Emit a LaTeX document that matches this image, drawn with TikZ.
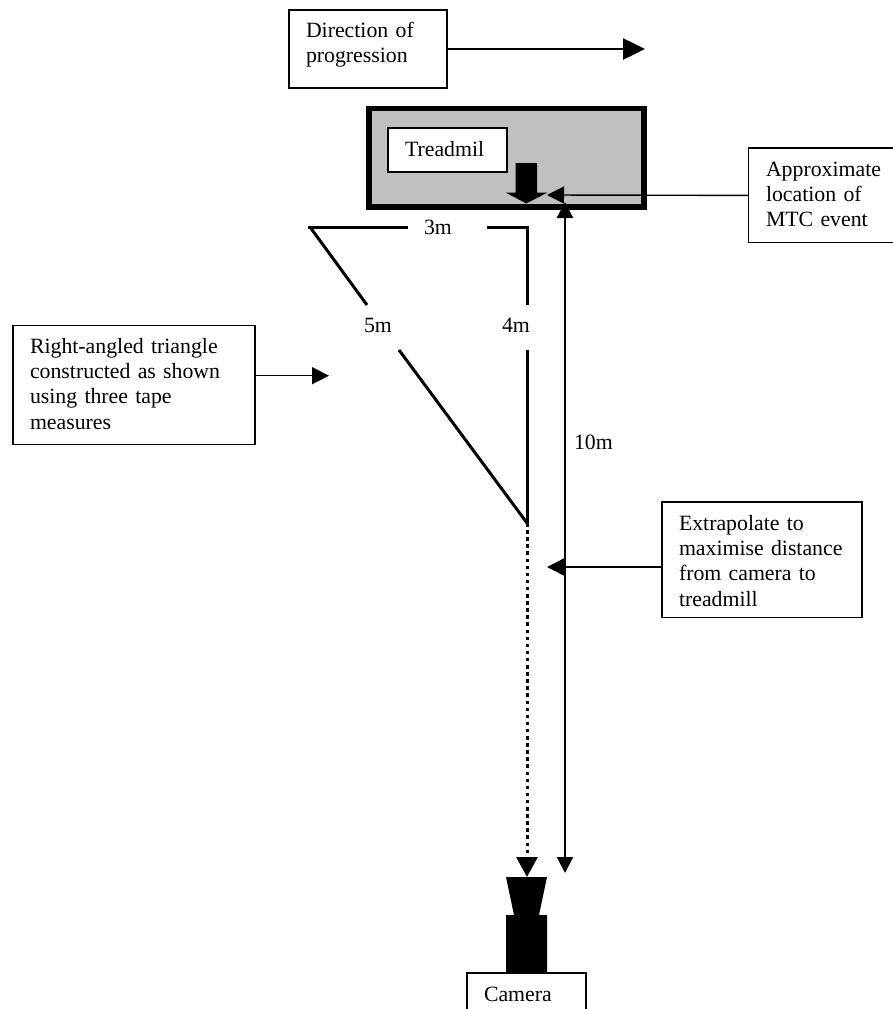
\documentclass[tikz,border=0pt]{standalone}
\usepackage{fontspec}
\setmainfont{Liberation Serif}
\usetikzlibrary{arrows.meta}
\newcommand{\topgap}[1]{\rule{0pt}{#1pt}}
\newcommand{\botgap}[1]{\rule[-#1pt]{0pt}{#1pt}}
\tikzset{
  every node/.style={font=\fontsize{21.8}{25.4}\selectfont, inner sep=0pt, outer sep=0pt},
  notebox/.style={draw=black, line width=1.2pt, anchor=north west, align=left, fill=white},
  lbl/.style={anchor=base west},
  thinarrow/.style={line width=1.4pt, -{Triangle[length=17pt,width=17pt]}},
  bigarrow/.style={line width=2.5pt, -{Triangle[length=22pt,width=21pt]}},
  tape/.style={line width=3pt, line cap=butt},
  span/.style={line width=2.2pt, {Triangle[length=16pt,width=16pt]}-{Triangle[length=16pt,width=16pt]}},
  sight/.style={line width=3pt, dash pattern=on 3.5pt off 3.6pt, -{Triangle[length=20pt,width=21pt]}}
}
\begin{document}
\begin{tikzpicture}[x=1pt,y=-1pt]
\useasboundingbox (0,0) rectangle (893,1009);
\clip (0,0) rectangle (893,1009);
% treadmill
\draw[line width=5.6pt, fill={rgb,255:red,192;green,192;blue,192}] (368.8,108.6) rectangle (644.2,207.2);
\node[notebox, minimum width=119pt, minimum height=44pt, text width=85pt, inner xsep=17pt] (tread) at (388,128) {\topgap{28}Treadmil\botgap{16}};
\fill (515.7,163) -- (537,163) -- (537,192.5) -- (547.5,192.5) -- (526.3,203.5) -- (505.5,192.5) -- (515.7,192.5) -- cycle;
% note boxes
\node[notebox, minimum width=158pt, minimum height=78pt, text width=124pt, inner xsep=17pt] (dir) at (289,10)
  {\topgap{27}Direction of\\progression\botgap{25}};
\node[notebox, minimum width=170pt, minimum height=94pt, text width=135pt, inner xsep=17.5pt] (mtc) at (748.5,148)
  {\topgap{28}Approximate\\location of\\MTC event\botgap{16}};
\node[notebox, minimum width=242pt, minimum height=118.3pt, text width=208pt, inner xsep=17pt] (rt) at (13,325.7)
  {\topgap{27.3}Right-angled triangle\\constructed as shown\\using three tape\\measures\botgap{15}};
\node[notebox, minimum width=200pt, minimum height=115pt, text width=166pt, inner xsep=17pt] (ext) at (662,502)
  {\topgap{28}Extrapolate to\\maximise distance\\from camera to\\treadmill\botgap{11}};
\node[notebox, minimum width=119pt, minimum height=60pt, text width=85pt, inner xsep=17pt] (cam) at (467,973)
  {\topgap{28}Camera\botgap{32}};
% free ends
\coordinate (dirtip) at (645,49);
\coordinate (mtctip) at (547,195);
\coordinate (rttip) at (329,375.7);
\coordinate (exttip) at (547,567);
\coordinate (spantop) at (565,202);
\coordinate (spanbot) at (565,873);
\coordinate (sightstart) at (527,523);
\coordinate (sighttip) at (527,877);
% connectors
\draw[bigarrow] (dir.east) -- (dirtip);
\draw[thinarrow] (mtc.west) -- (mtctip);
\draw[thinarrow] (rt.east |- rttip) -- (rttip);
\draw[thinarrow] (ext.west |- exttip) -- (exttip);
\draw[span] (spantop) -- (spanbot);
% triangle
\coordinate (ta) at (308,227);
\coordinate (tb) at (527,227);
\coordinate (tc) at (527,523);
\draw[tape] (ta) -- (408,227);
\draw[tape] (487,227) -- (tb) -- (527,305);
\draw[tape] (527,350) -- (tc);
\draw[tape] (310,227) -- (367,305);
\draw[tape] (399,350) -- (tc);
\draw[sight] (sightstart) -- (sighttip);
% labels
\node[lbl] (l3) at (424,234) {3m};
\node[lbl] (l5) at (364,332) {5m};
\node[lbl] (l4) at (502,332) {4m};
\node[lbl] (l10) at (574,449) {10m};
% camera
\fill (506,877) -- (547,877) -- (539,915) -- (547,915) -- (547,973) -- (506,973) -- (506,915) -- (514,915) -- cycle;
\end{tikzpicture}
\end{document}
